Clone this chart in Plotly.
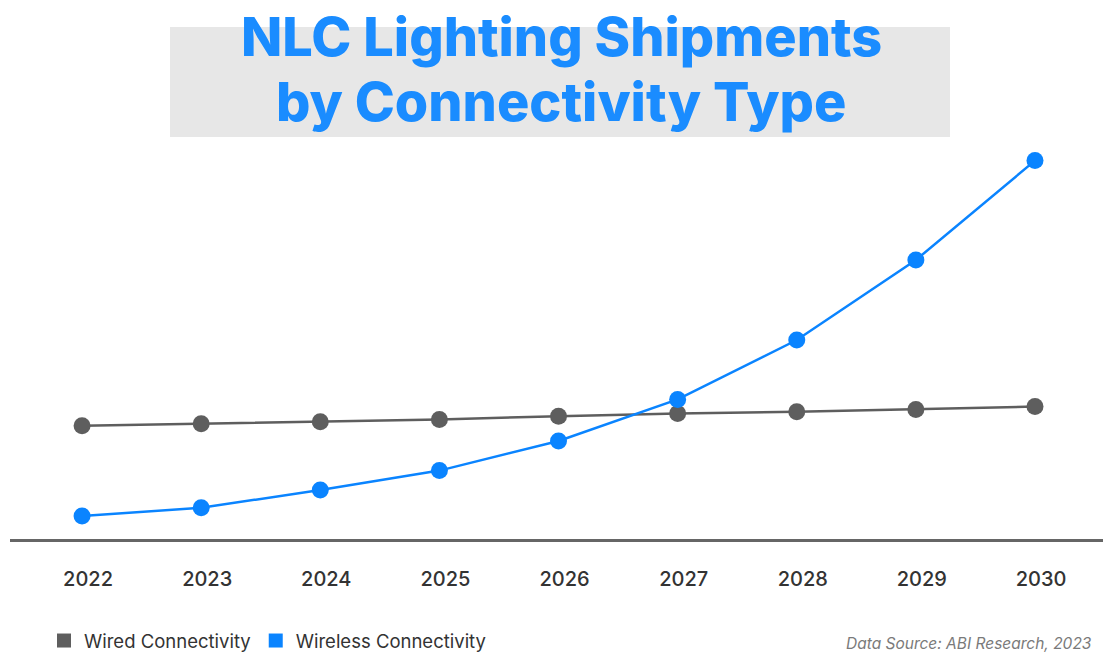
import plotly.graph_objects as go

years = [2022, 2023, 2024, 2025, 2026, 2027, 2028, 2029, 2030]
wired = [28.3, 28.8, 29.3, 29.9, 30.7, 31.4, 31.8, 32.4, 33.1]
wireless = [5.75, 7.8, 12.25, 17.1, 24.5, 34.9, 49.75, 69.75, 94.6]
series_names = ["Wired Connectivity", "Wireless Connectivity"]
title_lines = ["NLC Lighting Shipments", "by Connectivity Type"]
source_text = "Data Source: ABI Research, 2023"

GRAY = "#5e5e5e"
BLUE = "#0a84ff"
W, H = 1103, 654
ML, MR, MT, MB = 10, 0, 150, 115
PW, PH = W - ML - MR, H - MT - MB


def px(xp):
    return (xp - ML) / PW


def py(yp):
    return (H - MB - yp) / PH


fig = go.Figure()
for name, vals, col in [(series_names[0], wired, GRAY), (series_names[1], wireless, BLUE)]:
    fig.add_trace(go.Scatter(
        x=years, y=vals, mode="lines+markers", name=name, showlegend=False,
        line=dict(color=col, width=2.5),
        marker=dict(color=col, size=17),
        cliponaxis=False,
    ))
    fig.add_trace(go.Scatter(
        x=[None], y=[None], mode="markers", name=name, showlegend=True,
        marker=dict(color=col, size=14, symbol="square"),
    ))

fig.add_shape(type="rect", xref="paper", yref="paper",
              x0=px(170), x1=px(950), y0=py(137), y1=py(27),
              fillcolor="#e7e7e7", line=dict(width=0), layer="below")

for i, (txt, yc) in enumerate(zip(title_lines, [36, 102])):
    fig.add_annotation(text=txt, xref="paper", yref="paper",
                       x=px(561), y=py(yc), xanchor="center", yanchor="middle",
                       showarrow=False,
                       font=dict(family="Inter", size=54, weight=800, color="#1a8cff"))

fig.add_annotation(text="<i>%s</i>" % source_text, xref="paper", yref="paper",
                   x=px(1094), y=py(643), xanchor="right", yanchor="middle",
                   showarrow=False,
                   font=dict(family="Inter", size=15.5, color="#7a7a7a"))

fig.update_layout(
    width=W, height=H,
    margin=dict(l=ML, r=MR, t=MT, b=MB, autoexpand=False),
    paper_bgcolor="white", plot_bgcolor="white",
    font=dict(family="Inter", color="#333333"),
    xaxis=dict(range=[2022 - 0.605, 2030 + 0.571], tickmode="array",
               tickvals=years, ticktext=[str(y) for y in years],
               showgrid=False, zeroline=False, showline=True,
               linecolor="#666666", linewidth=2.5, ticks="",
               ticklabelstandoff=20, ticklabelshift=6, automargin=False,
               tickfont=dict(family="Inter", size=20, weight=500, color="#333333")),
    yaxis=dict(range=[0, 97.25], visible=False, showgrid=False, zeroline=False),
    legend=dict(orientation="h", x=px(44), y=py(641), xanchor="left", yanchor="middle",
                font=dict(family="Inter", size=18.5, color="#333333"),
                itemwidth=30, tracegroupgap=0, bgcolor="rgba(0,0,0,0)"),
)

fig.write_html("out.html", config={"displayModeBar": False},
               post_script="document.body.style.margin='0px';document.body.style.overflow='hidden';")
